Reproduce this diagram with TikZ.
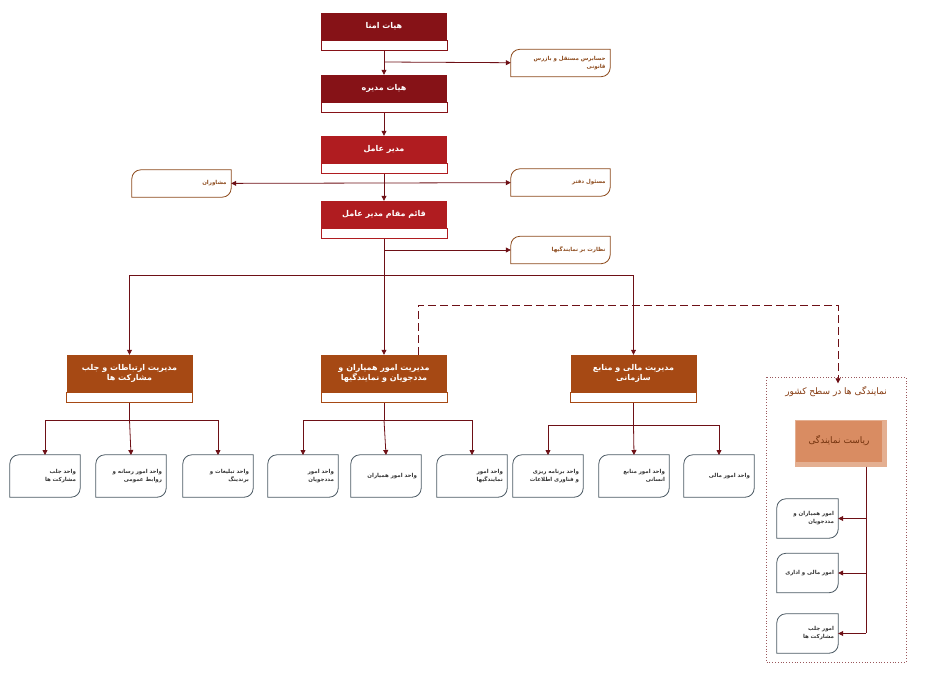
\documentclass[tikz,border=0pt]{standalone}
\usepackage{fontspec}
\newfontfamily\fa[Script=Arabic]{DejaVu Sans}
\usetikzlibrary{arrows.meta, positioning}
\TeXXeTstate=1
\newcommand*{\rl}[1]{\beginR#1\endR}
\definecolor{boardred}{HTML}{861217}
\definecolor{ceored}{HTML}{B01C20}
\definecolor{mgrbrown}{HTML}{A64914}
\definecolor{wire}{HTML}{6E1016}
\definecolor{leafline}{HTML}{4C5A64}
\definecolor{sidetext}{HTML}{8C4A1C}
\definecolor{repbox}{HTML}{D98C62}
\tikzstyle{block} = [minimum width=126pt, inner sep=2pt, font=\fa\bfseries\fontsize{8}{10}\selectfont, text=white, align=center]
\tikzstyle{board} = [block, fill=boardred, minimum height=27pt]
\tikzstyle{ceo} = [block, fill=ceored, minimum height=27pt]
\tikzstyle{manager} = [block, fill=mgrbrown, minimum height=37pt]
\tikzstyle{strip} = [draw=boardred, fill=white, minimum width=126pt, minimum height=10pt, inner sep=0pt]
\tikzstyle{leaf} = [minimum width=70pt, minimum height=42pt, inner sep=3pt, text width=62pt, align=right, font=\fa\bfseries\fontsize{5.5}{8}\selectfont, text=black!80]
\tikzstyle{side} = [leaf, minimum width=99pt, minimum height=27pt, text width=90pt, text=sidetext]
\tikzstyle{path} = [-{Triangle[length=5pt,width=5pt]}, thick, wire]
\begin{document}
\begin{tikzpicture}[x=1pt, y=-1pt]
    \useasboundingbox (0,0) rectangle (929,693);
    % Board and executives.
    \node (amna) [board] at (384,26.5) {\rl{هیات امنا}};
    \node (amna s) [strip, below=0pt of amna] {};
    \node (modire) [board] at (384,88.5) {\rl{هیات مدیره}};
    \node (modire s) [strip, below=0pt of modire] {};
    \node (amel) [ceo] at (384,149.5) {\rl{مدیر عامل}};
    \node (amel s) [strip, draw=ceored, below=0pt of amel] {};
    \node (ghaem) [ceo] at (384,214.5) {\rl{قائم مقام مدیر عامل}};
    \node (ghaem s) [strip, draw=ceored, below=0pt of ghaem] {};

    % Side offices.
    \node (hesab) [side] at (560.5,63) {\rl{حسابرس مستقل و بازرس}\\\rl{قانونی}};
    \node (daftar) [side] at (560.5,182.5) {\rl{مسئول دفتر}};
    \node (moshaver) [side] at (181.5,183.5) {\rl{مشاوران}};
    \node (nezarat) [side] at (560.5,250) {\rl{نظارت بر نمایندگیها}};

    % Managers.
    \node (ertebat) [manager] at (129.5,373.5) {\rl{مدیریت ارتباطات و جلب}\\\rl{مشارکت ها}};
    \node (ertebat s) [strip, draw=mgrbrown, below=0pt of ertebat] {};
    \node (hamyar) [manager] at (384,373.5) {\rl{مدیریت امور همیاران و}\\\rl{مددجویان و نمایندگیها}};
    \node (hamyar s) [strip, draw=mgrbrown, below=0pt of hamyar] {};
    \node (mali) [manager] at (633.5,373.5) {\rl{مدیریت  مالی و منابع}\\\rl{سازمانی}};
    \node (mali s) [strip, draw=mgrbrown, below=0pt of mali] {};

    % Units.
    \node (u1) [leaf] at (45,476) {\rl{واحد جلب}\\\rl{مشارکت ها}};
    \node (u2) [leaf] at (131,476) {\rl{واحد امور رسانه و}\\\rl{روابط عمومی}};
    \node (u3) [leaf] at (218,476) {\rl{واحد تبلیغات و}\\\rl{برندینگ}};
    \node (u4) [leaf] at (303,476) {\rl{واحد امور}\\\rl{مددجویان}};
    \node (u5) [leaf] at (386,476) {\rl{واحد امور همیاران}};
    \node (u6) [leaf] at (472,476) {\rl{واحد امور}\\\rl{نمایندگیها}};
    \node (u7) [leaf] at (548,476) {\rl{واحد برنامه ریزی}\\\rl{و فناوری اطلاعات}};
    \node (u8) [leaf] at (634,476) {\rl{واحد امور منابع}\\\rl{انسانی}};
    \node (u9) [leaf] at (719,476) {\rl{واحد امور مالی}};

    % Representations.
    \draw [wire!70, dotted, thick] (766,377) rectangle (906,662);
    \node (country) [font=\fa\fontsize{9}{11}\selectfont, text=mgrbrown!80!black] at (836,392) {\rl{نمایندگی ها در سطح کشور}};
    \node (riasat shadow) [fill=repbox!70, minimum width=92pt, minimum height=47pt] at (841,443) {};
    \node (riasat) [fill=repbox, minimum width=86pt, minimum height=41pt, font=\fa\fontsize{9}{11}\selectfont, text=mgrbrown!70!black] at (839,441) {\rl{ریاست نمایندگی}};
    \node (r1) [leaf, minimum width=61pt, minimum height=39pt, text width=53pt] at (807.5,518.5) {\rl{امور همیاران و}\\\rl{مددجویان}};
    \node (r2) [leaf, minimum width=61pt, minimum height=39pt, text width=53pt] at (807.5,573) {\rl{امور مالی و اداری}};
    \node (r3) [leaf, minimum width=61pt, minimum height=39pt, text width=53pt] at (807.5,633.5) {\rl{امور جلب}\\\rl{مشارکت ها}};

    % Leaf outlines.
    \foreach \n in {u1, u2, u3, u4, u5, u6, u7, u8, u9, r1, r2, r3} {
        \draw [leafline, thick] (\n.south west) [rounded corners=9pt] -- (\n.north west) [sharp corners] -- (\n.north east) [rounded corners=9pt] -- (\n.south east) [sharp corners] -- cycle;
    }
    \foreach \n in {hesab, daftar, moshaver, nezarat} {
        \draw [sidetext, thick] (\n.south west) [rounded corners=9pt] -- (\n.north west) [sharp corners] -- (\n.north east) [rounded corners=9pt] -- (\n.south east) [sharp corners] -- cycle;
    }

    % Main trunk.
    \coordinate (j hesab) at (384,62);
    \coordinate (j side) at (384,183);
    \coordinate (j nezarat) at (384,250);
    \coordinate (bus) at (384,275);
    \draw [path] (amna s) -- (modire);
    \draw [path] (modire s) -- (amel);
    \draw [path] (amel s) -- (ghaem);
    \draw [path] (j hesab) -- (hesab);
    \draw [path] (j side) -- (daftar);
    \draw [path] (j side) -- (moshaver);
    \draw [path] (j nezarat) -- (nezarat);
    \draw [thick, wire] (ghaem s) -- (bus);
    \draw [path] (bus) -- (hamyar);
    \draw [path] (bus) -| (ertebat);
    \draw [path] (bus) -| (mali);
    \draw [path, dashed, dash pattern=on 8pt off 4pt] (hamyar.north -| 418,0) |- (838,305) -- (country.north -| 838,0);

    % Unit buses.
    \foreach \m/\a/\b/\c/\y in {ertebat s/u1/u2/u3/420, hamyar s/u4/u5/u6/420, mali s/u7/u8/u9/425} {
        \coordinate (knee) at (\m.south |- 0,\y);
        \draw [thick, wire] (\m) -- (knee);
        \draw [path] (knee) -- (\b.north |- 0,455);
        \draw [path] (knee) -| (\a.north |- 0,455);
        \draw [path] (knee) -| (\c.north |- 0,455);
    }

    % Representation branch.
    \draw [thick, wire] (riasat shadow.south -| 866,0) -- (866,633);
    \foreach \n in {r1, r2, r3} {
        \draw [path] (\n.east -| 866,0) -- (\n.east);
    }
\end{tikzpicture}
\end{document}
